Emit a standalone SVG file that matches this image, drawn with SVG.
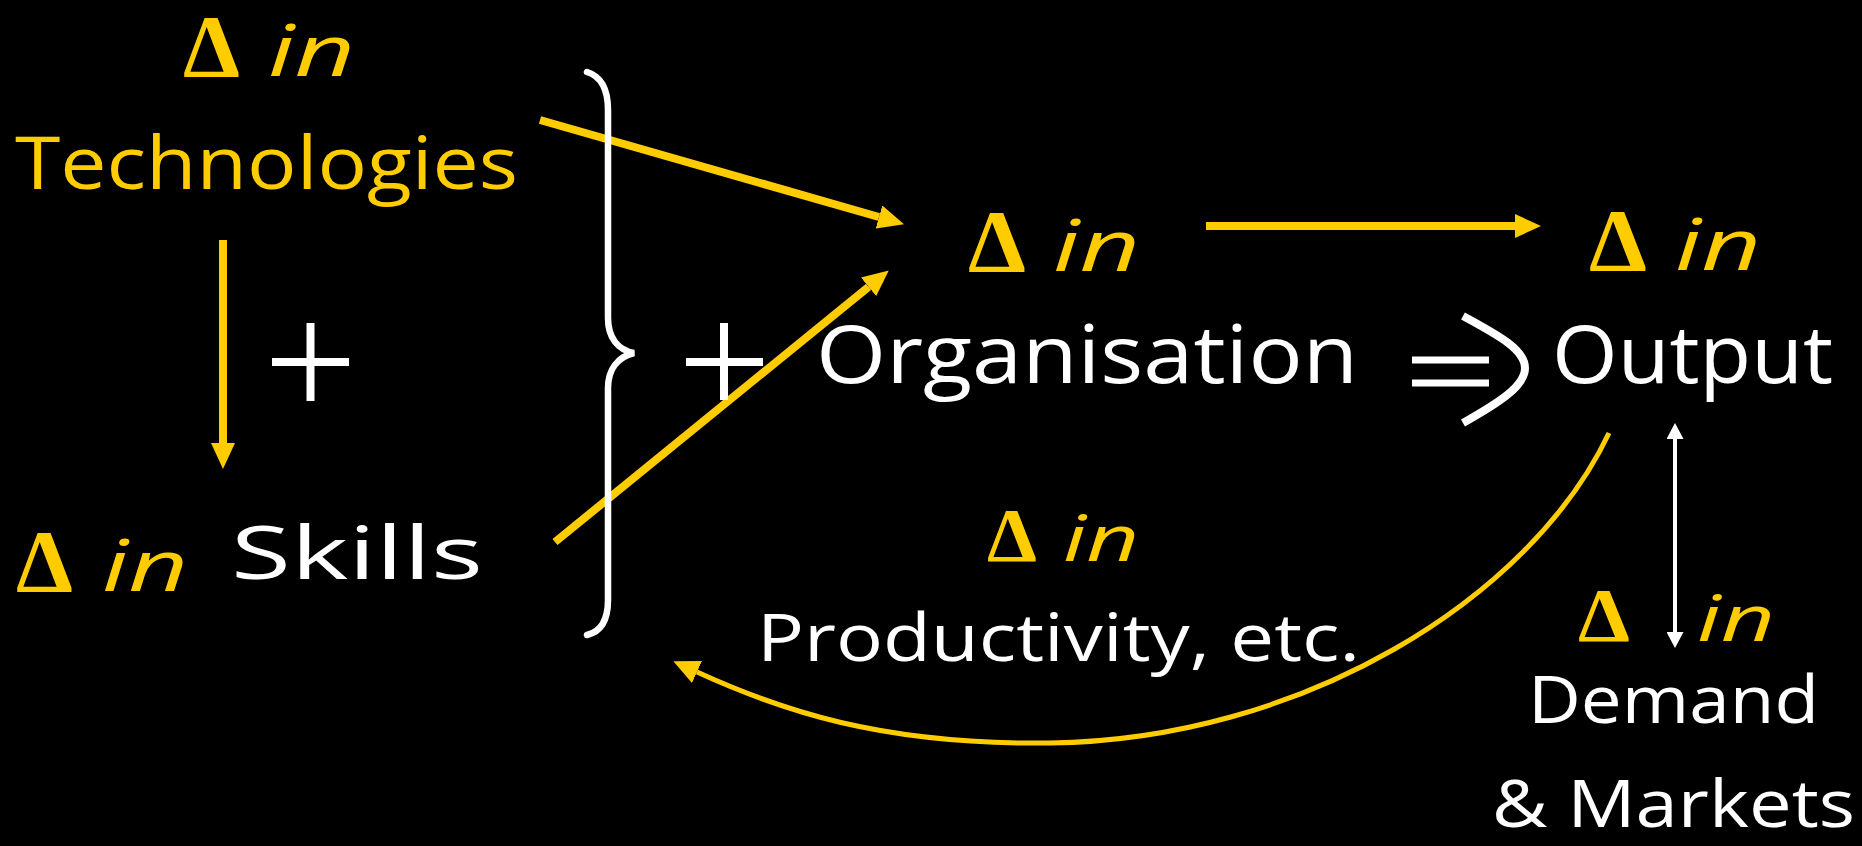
<svg xmlns="http://www.w3.org/2000/svg" width="1862" height="846" viewBox="0 0 1862 846">
<defs>
<style>
.bg{fill:#000}
.w{fill:#fff;font-family:"Open Sans","Liberation Sans",sans-serif}
.y{fill:#FFCC00;font-family:"Open Sans","Liberation Sans",sans-serif}
.d{fill:#FFCC00;font-family:"Liberation Serif",serif;font-weight:bold}
.i{fill:#FFCC00;font-family:"Open Sans","Liberation Sans",sans-serif;font-style:italic}
.ya{stroke:#FFCC00;stroke-width:8;fill:none}
.yc{stroke:#FFCC00;stroke-width:5;fill:none}
.wl{stroke:#fff;fill:none;stroke-linecap:round}
</style>
<marker id="hy" markerUnits="userSpaceOnUse" markerWidth="26" markerHeight="24" refX="0" refY="12" orient="auto">
<path d="M0,0 L26,12 L0,24 Z" fill="#FFCC00"/>
</marker>
<marker id="hw" markerUnits="userSpaceOnUse" markerWidth="16" markerHeight="17" refX="0" refY="8.5" orient="auto-start-reverse">
<path d="M0,0 L16,8.5 L0,17 Z" fill="#fff"/>
</marker>
</defs>
<rect class="bg" x="0" y="0" width="1862" height="846"/>

<g id="connectors">
<line class="ya" x1="223" y1="240" x2="223" y2="443" marker-end="url(#hy)"/>
<line class="ya" x1="540" y1="120" x2="879" y2="217" marker-end="url(#hy)"/>
<line class="ya" x1="555" y1="542" x2="868.6" y2="286.8" marker-end="url(#hy)"/>
<line class="ya" x1="1206" y1="226" x2="1515" y2="226" marker-end="url(#hy)"/>
<path class="yc" d="M1609,433 C1530,600 1300,740 1050,743 C880,745 780,710 697,672" marker-end="url(#hy)"/>
<line class="wl" style="stroke-linecap:butt" stroke-width="4" x1="1675" y1="439" x2="1675" y2="632" marker-start="url(#hw)" marker-end="url(#hw)"/>
</g>

<g id="symbols">
<g id="plus1"><line class="wl" stroke-width="8" style="stroke-linecap:butt" x1="272" y1="362" x2="349" y2="362"/><line class="wl" stroke-width="8" style="stroke-linecap:butt" x1="310.5" y1="323" x2="310.5" y2="401"/></g>
<g id="plus2"><line class="wl" stroke-width="8" style="stroke-linecap:butt" x1="686" y1="362" x2="763" y2="362"/><line class="wl" stroke-width="8" style="stroke-linecap:butt" x1="724" y1="323" x2="724" y2="400"/></g>
<path id="brace" class="wl" stroke-width="6.5" d="M587,72 C600,76 608,88 608,110 L608,318 C608,338 618,350 634,353 C618,357 608,369 608,388 L608,600 C608,622 600,632 587,635"/>
<g id="implies">
<line class="wl" stroke-width="7" style="stroke-linecap:butt" x1="1412" y1="360" x2="1489" y2="360"/>
<line class="wl" stroke-width="7" style="stroke-linecap:butt" x1="1412" y1="383" x2="1489" y2="383"/>
<path class="wl" stroke-width="8" style="stroke-linecap:butt" d="M1463,316 C1500,336 1525,350 1525,368 C1525,386 1500,402 1463,423"/>
</g>
</g>

<g id="technologies">
<text class="d" x="183" y="76" font-size="88" textLength="57" lengthAdjust="spacingAndGlyphs">Δ</text>
<text class="i" x="268" y="76" font-size="72" textLength="87" lengthAdjust="spacingAndGlyphs">in</text>
<text class="y" x="15" y="189" font-size="74" textLength="503" lengthAdjust="spacingAndGlyphs">Technologies</text>
</g>

<g id="skills">
<text class="d" x="16" y="591" font-size="88" textLength="57" lengthAdjust="spacingAndGlyphs">Δ</text>
<text class="i" x="102" y="591" font-size="72" textLength="86" lengthAdjust="spacingAndGlyphs">in</text>
<text class="w" x="231" y="579" font-size="74" textLength="252" lengthAdjust="spacingAndGlyphs">Skills</text>
</g>

<g id="organisation">
<text class="d" x="968" y="271" font-size="88" textLength="58" lengthAdjust="spacingAndGlyphs">Δ</text>
<text class="i" x="1053" y="271" font-size="72" textLength="87" lengthAdjust="spacingAndGlyphs">in</text>
<text class="w" x="816" y="383" font-size="80" textLength="542" lengthAdjust="spacingAndGlyphs">Organisation</text>
</g>

<g id="output">
<text class="d" x="1589" y="270" font-size="88" textLength="58" lengthAdjust="spacingAndGlyphs">Δ</text>
<text class="i" x="1675" y="270" font-size="72" textLength="86" lengthAdjust="spacingAndGlyphs">in</text>
<text class="w" x="1552" y="383" font-size="80" textLength="281" lengthAdjust="spacingAndGlyphs">Output</text>
</g>

<g id="productivity">
<text class="d" x="987" y="561" font-size="76" textLength="50" lengthAdjust="spacingAndGlyphs">Δ</text>
<text class="i" x="1063" y="561" font-size="64" textLength="76" lengthAdjust="spacingAndGlyphs">in</text>
<text class="w" x="757" y="661" font-size="66" textLength="603" lengthAdjust="spacingAndGlyphs">Productivity, etc.</text>
</g>

<g id="demand">
<text class="d" x="1578" y="641" font-size="76" textLength="52" lengthAdjust="spacingAndGlyphs">Δ</text>
<text class="i" x="1697" y="641" font-size="64" textLength="78" lengthAdjust="spacingAndGlyphs">in</text>
<text class="w" x="1528" y="723" font-size="66" textLength="291" lengthAdjust="spacingAndGlyphs">Demand</text>
<text class="w" x="1492" y="827" font-size="66" textLength="363" lengthAdjust="spacingAndGlyphs">&amp; Markets</text>
</g>
</svg>
